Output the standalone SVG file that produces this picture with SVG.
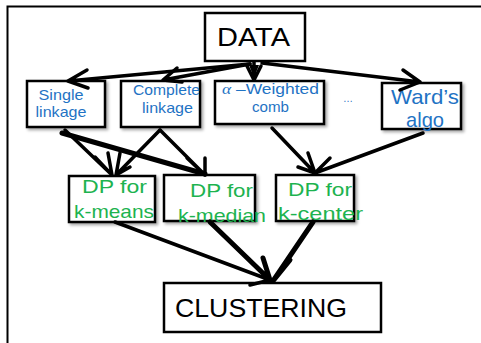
<svg xmlns="http://www.w3.org/2000/svg" width="481" height="343" viewBox="0 0 481 343">
  <style>
    .box { fill: #ffffff; stroke: #000000; stroke-width: 2.5; }
    .shadowed { filter: url(#soft); }
    .blue { fill: #1f73c4; font-family: "Liberation Sans", "DejaVu Sans", sans-serif; text-anchor: middle; }
    .green { fill: #1db34f; font-family: "Liberation Sans", "DejaVu Sans", sans-serif; text-anchor: middle; font-size: 19px; }
    .black { fill: #000000; font-family: "Liberation Sans", "DejaVu Sans", sans-serif; font-size: 25px; }
    .line { fill: none; stroke: #000000; stroke-width: 3.5; stroke-linecap: round; stroke-linejoin: round; }
    .heavy { stroke-width: 5; }
  </style>
  <defs>
    <filter id="soft" x="-20%" y="-20%" width="150%" height="150%">
      <feDropShadow dx="2" dy="2" stdDeviation="1.6" flood-color="#000000" flood-opacity="0.35"/>
    </filter>
  </defs>

  <rect width="481" height="343" fill="#ffffff"/>
  <!-- outer frame -->
  <path d="M7.5 343 V6.5 H481" fill="none" stroke="#000000" stroke-width="2"/>

  <g id="data">
    <rect class="box" x="205" y="13" width="100" height="48"/>
    <text class="black" x="217" y="46" textLength="73" lengthAdjust="spacingAndGlyphs">DATA</text>
  </g>

  <g id="single-linkage">
    <rect class="box shadowed" x="27" y="81" width="78" height="46"/>
    <text class="blue" x="61" y="100" font-size="15" textLength="45" lengthAdjust="spacingAndGlyphs">Single</text>
    <text class="blue" x="61" y="117" font-size="15" textLength="51" lengthAdjust="spacingAndGlyphs">linkage</text>
  </g>

  <g id="complete-linkage">
    <rect class="box shadowed" x="121" y="81" width="79" height="46"/>
    <text class="blue" x="166.5" y="95" font-size="15" textLength="67" lengthAdjust="spacingAndGlyphs">Complete</text>
    <text class="blue" x="167.5" y="113" font-size="15" textLength="51" lengthAdjust="spacingAndGlyphs">linkage</text>
  </g>

  <g id="weighted-comb">
    <rect class="box shadowed" x="215" y="81" width="109" height="43"/>
    <text class="blue" x="270.5" y="94" font-size="15" textLength="97" lengthAdjust="spacingAndGlyphs"><tspan font-family="'Liberation Serif', serif" font-style="italic">α</tspan> –Weighted</text>
    <text class="blue" x="270.5" y="112" font-size="15" textLength="37" lengthAdjust="spacingAndGlyphs">comb</text>
  </g>

  <g id="ellipsis">
    <text class="blue" x="348" y="102" font-size="10">…</text>
  </g>

  <g id="wards-algo">
    <rect class="box shadowed" x="382" y="83" width="79" height="46"/>
    <text class="blue" x="425" y="104" font-size="21" textLength="68" lengthAdjust="spacingAndGlyphs">Ward’s</text>
    <text class="blue" x="425" y="127" font-size="21" textLength="38" lengthAdjust="spacingAndGlyphs">algo</text>
  </g>

  <g id="dp-k-means">
    <rect class="box shadowed" x="69" y="176" width="86" height="46"/>
    <text class="green" x="114.5" y="193" textLength="65" lengthAdjust="spacingAndGlyphs">DP for</text>
    <text class="green" x="114" y="218" textLength="80" lengthAdjust="spacingAndGlyphs">k-means</text>
  </g>

  <g id="dp-k-median">
    <rect class="box shadowed" x="164" y="175" width="91" height="46"/>
    <text class="green" x="221.5" y="197" textLength="63" lengthAdjust="spacingAndGlyphs">DP for</text>
    <text class="green" x="222" y="222" textLength="88" lengthAdjust="spacingAndGlyphs">k-median</text>
  </g>

  <g id="dp-k-center">
    <rect class="box shadowed" x="276" y="175" width="78" height="46"/>
    <text class="green" x="320" y="196" textLength="64" lengthAdjust="spacingAndGlyphs">DP for</text>
    <text class="green" x="320.5" y="220" textLength="85" lengthAdjust="spacingAndGlyphs">k-center</text>
  </g>

  <g id="clustering">
    <rect class="box" x="164" y="283" width="217" height="49"/>
    <text class="black" x="175" y="317" font-size="26" textLength="172" lengthAdjust="spacingAndGlyphs">CLUSTERING</text>
  </g>

  <g id="connectors">
    <!-- DATA to the linkage rules -->
    <path class="line" d="M250 64 L68 81 M87 70 L68 81 L88 88"/>
    <path class="line" d="M250 64 L163 80 M177 68 L163 80 L182 82"/>
    <path class="line" d="M254 62 L254 80 M247 66 L254 80 L261 66"/>
    <path d="M249 65 L254 78 L259 65 Z" fill="#000000"/>
    <path class="line" d="M262 63 L420 82 M403 70 L420 82 L400 90"/>

    <!-- linkage rules to the dynamic programs -->
    <path class="line" d="M65 130 L112 175 M95 157 L112 175 L108 153"/>
    <path class="line" d="M160 130 L116 175 M120 153 L116 175 L130 167"/>
    <path class="line heavy" d="M62 133 L205 174"/>
    <path class="line" d="M160 130 L205 175 M187 158 L205 175 L205 158"/>
    <path class="line" d="M272 128 L315 173 M308 153 L315 173 L298 167"/>
    <path class="line" d="M423 133 L315 173 M330 158 L315 173"/>

    <!-- dynamic programs to CLUSTERING -->
    <path class="line" d="M115 222 L270 280 M250 285 L270 280"/>
    <path class="line heavy" d="M210 222 L270 280 M263 258 L270 280"/>
    <path class="line heavy" d="M313 222 L273 281 M290 260 L273 281"/>
  </g>
</svg>
